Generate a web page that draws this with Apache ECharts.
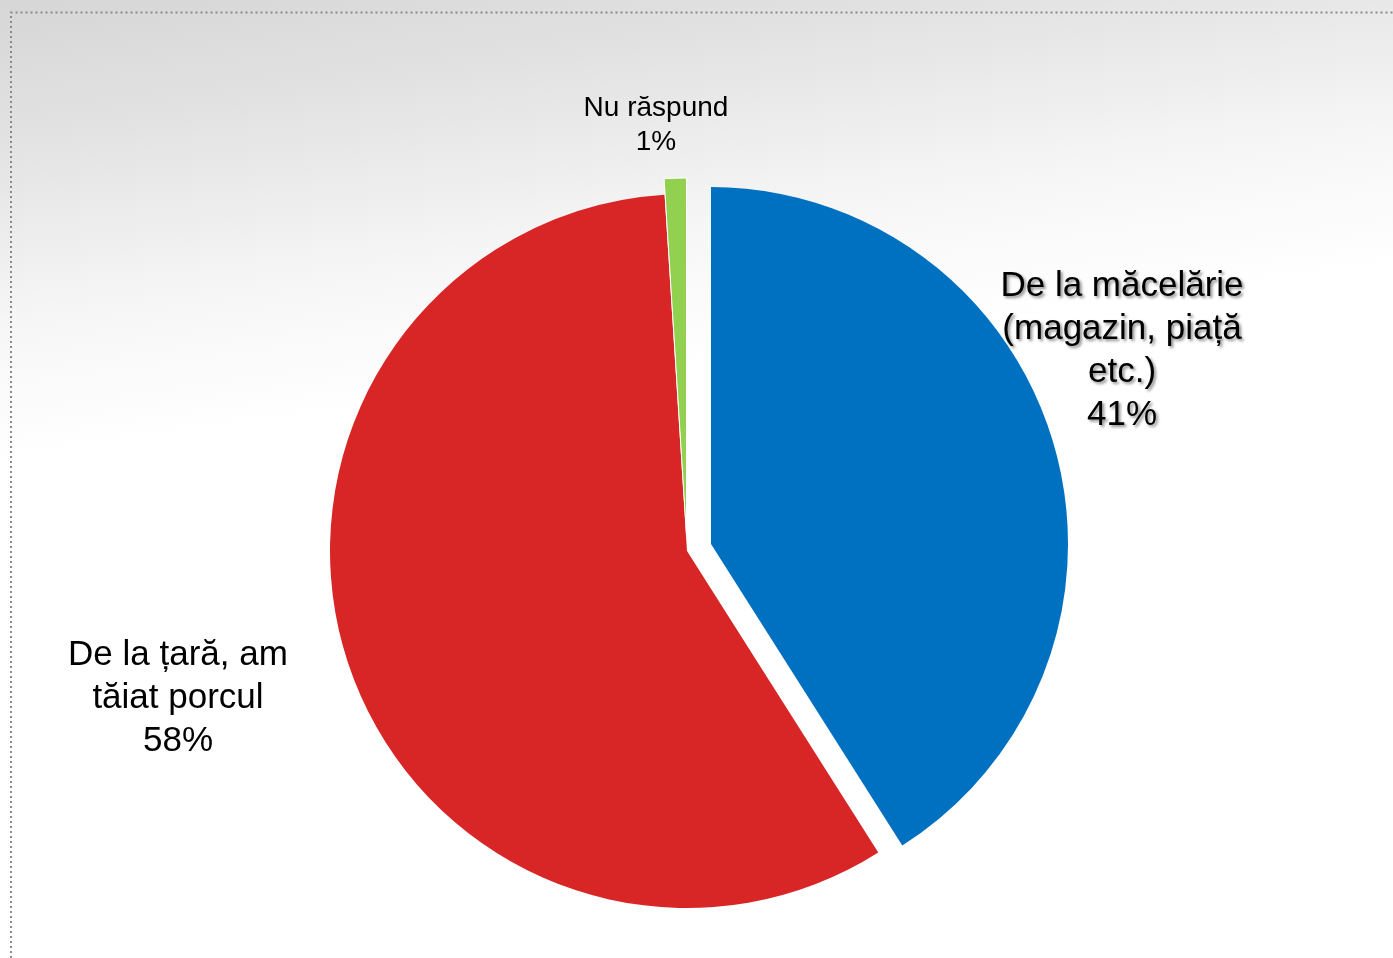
<!DOCTYPE html>
<html>
<head>
<meta charset="utf-8">
<script src="https://cdn.jsdelivr.net/npm/echarts@6/dist/echarts.min.js"></script>
<style>
  html, body { margin: 0; padding: 0; }
  #main {
    width: 1393px; height: 958px;
    background: linear-gradient(172deg, #d6d6d6 0%, #e2e2e2 12%, #f6f6f6 28%, #ffffff 40%);
  }
</style>
</head>
<body>
<div id="main"></div>
<script>
var names = ['De la măcelărie\n(magazin, piață\netc.)', 'De la țară, am\ntăiat porcul', 'Nu răspund'];
var values = [41, 58, 1];
var colors = ['#0070C0', '#D82626', '#92D050'];
// how far each slice is pulled out of the pie
var offsets = [25, 0, 16];
// label centres
var labelPos = [[1122, 351], [178, 698], [656, 125]];
var labelSize = [35, 35, 28];
var labelLine = [43, 43, 34];

var chart = echarts.init(document.getElementById('main'));

var font = "'Liberation Sans', Arial, sans-serif";

// one pie per slice, so each one can have its own offset; all share the same data
var makeSeries = (k) => {
    return {
        type: 'pie',
        center: [687, 551],
        radius: 357,
        startAngle: 90,
        clockwise: true,
        selectedMode: 'single',
        selectedOffset: offsets[k],
        percentPrecision: 0,
        silent: true,
        animation: false,
        label: { show: false },
        labelLine: { show: false },
        data: values.map((v, i) => {
            return {
                name: names[i],
                value: v,
                selected: i === k && offsets[k] > 0,
                itemStyle: {
                    color: i === k ? colors[i] : 'rgba(0,0,0,0)',
                    borderColor: i === k && i === 2 ? '#fff' : 'rgba(0,0,0,0)',
                    borderWidth: i === 2 ? 1 : 0
                }
            };
        })
    };
};

// transparent pie that only carries the labels
var labelSeries = {
    type: 'pie',
    center: [687, 551],
    radius: 357,
    startAngle: 90,
    clockwise: true,
    selectedMode: false,
    percentPrecision: 0,
    silent: true,
    animation: false,
    labelLine: { show: false },
    labelLayout: p => {
        var pos = labelPos[p.dataIndex];
        return { x: pos[0], y: pos[1], align: 'center', verticalAlign: 'middle' };
    },
    data: values.map((v, i) => {
        return {
            name: names[i],
            value: v,
            itemStyle: { color: 'rgba(0,0,0,0)' },
            label: {
                show: true,
                formatter: '{b}\n{d}%',
                fontFamily: font,
                fontSize: labelSize[i],
                lineHeight: labelLine[i],
                color: '#000',
                align: 'center',
                textShadowColor: i === 0 ? 'rgba(0,0,0,0.45)' : 'transparent',
                textShadowBlur: i === 0 ? 3 : 0,
                textShadowOffsetX: i === 0 ? 2 : 0,
                textShadowOffsetY: i === 0 ? 2 : 0
            }
        };
    })
};

var option = {
    graphic: [
        {
            type: 'polyline',
            silent: true,
            shape: { points: [[11, 958], [11, 12.5], [1393, 12.5]] },
            style: { stroke: '#8a8a8a', lineWidth: 2, lineDash: [2, 3], fill: null }
        }
    ],
    series: [makeSeries(0), makeSeries(1), makeSeries(2), labelSeries]
};
chart.setOption(option);
</script>
</body>
</html>
